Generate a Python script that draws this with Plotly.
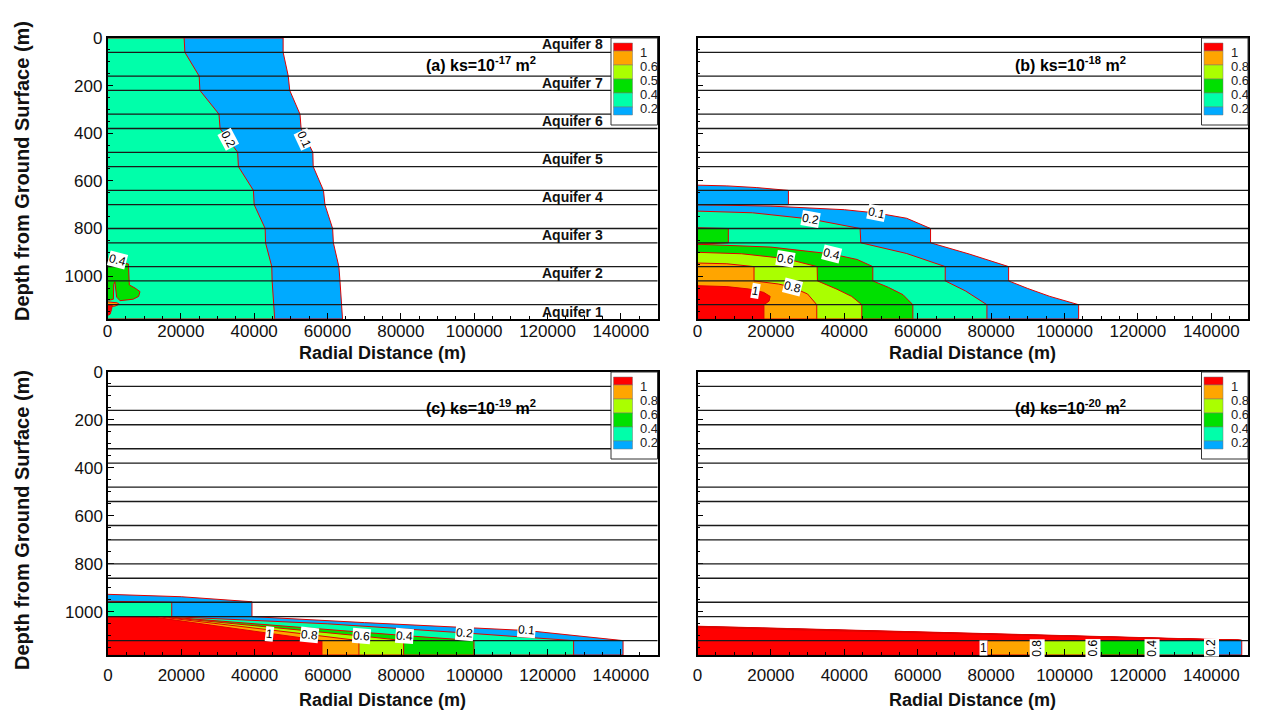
import plotly.graph_objects as go

W, H = 1264, 718

# ---------------- data ----------------
LAYER_BOUNDS = [60, 160, 220, 320, 380, 480, 540, 640, 700, 800, 860, 960, 1020, 1120]
DEPTH_MAX = 1180
X_MAX = 150000
X_TICKS = [0, 20000, 40000, 60000, 80000, 100000, 120000, 140000]
Y_TICKS = [0, 200, 400, 600, 800, 1000]
AQUIFER_NAMES = ["Aquifer 8", "Aquifer 7", "Aquifer 6", "Aquifer 5",
                 "Aquifer 4", "Aquifer 3", "Aquifer 2", "Aquifer 1"]
AQUIFER_DEPTH = [27, 188, 348, 506, 668, 828, 988, 1150]
AQUIFER_LABEL_X = 135600

TITLES = ["(a) ks=10<sup>-17</sup> m<sup>2</sup>", "(b) ks=10<sup>-18</sup> m<sup>2</sup>",
          "(c) ks=10<sup>-19</sup> m<sup>2</sup>", "(d) ks=10<sup>-20</sup> m<sup>2</sup>"]
LEGEND_A = ["1", "0.6", "0.5", "0.4", "0.2"]
LEGEND_BCD = ["1", "0.8", "0.6", "0.4", "0.2"]

# panel (a) contour regions (radial distance m, depth m)
A_X_01 = [0, 47900, 47900, 49300, 49700, 52500, 52800, 56000, 56100, 58900, 59300, 61400, 61600, 63100, 63400, 63900, 64100, 0]
A_D_01 = [0, 0, 60, 160, 220, 320, 380, 480, 540, 640, 700, 800, 860, 960, 1020, 1120, 1180, 1180]
A_X_02 = [0, 20900, 21100, 25000, 25200, 30400, 30700, 35500, 35700, 39800, 40000, 43000, 43100, 44800, 44900, 45400, 45600, 0]
A_D_02 = [0, 0, 60, 160, 220, 320, 380, 480, 540, 640, 700, 800, 860, 960, 1020, 1120, 1180, 1180]
A_X_04 = [0, 5700, 5950, 7500, 8860, 8500, 7000, 3400, 2500, 2200, 2000, 1700, 1600, 700, 0]
A_D_04 = [932, 949, 1037, 1050, 1065, 1085, 1097, 1103, 1088, 1030, 1024, 1035, 1097, 1100, 1100]
A_X_06 = [0, 2600, 3200, 2000, 0]
A_D_06 = [1108, 1112, 1118, 1126, 1128]
A_X_10 = [0, 1300, 1100, 700, 0]
A_D_10 = [1120, 1123, 1140, 1160, 1165]

# panel (b)
B_X_01 = [0, 8000, 16000, 24770, 24770, 0, 20000, 40000, 48870, 57000, 63500, 63500, 74000, 84770, 84770, 90000, 96000, 103850, 103850, 0]
B_D_01 = [618, 621, 628, 640, 700, 700, 706, 721, 735, 757, 800, 860, 907, 960, 1020, 1052, 1085, 1120, 1180, 1180]
B_X_02 = [0, 15000, 30680, 44300, 44500, 57000, 67500, 67500, 73000, 78860, 78860, 0]
B_D_02 = [727, 734, 760, 800, 860, 905, 960, 1020, 1062, 1120, 1180, 1180]
B_X_04 = [0, 8400, 8400, 0, 20000, 36600, 43500, 47770, 47770, 52000, 56000, 58680, 58680, 0]
B_D_04 = [797, 800, 860, 866, 878, 907, 930, 960, 1020, 1047, 1078, 1120, 1180, 1180]
B_X_06 = [0, 12000, 23860, 29000, 32600, 32680, 38000, 42000, 44770, 44770, 0]
B_D_06 = [900, 906, 926, 945, 960, 1020, 1055, 1085, 1120, 1180, 1180]
B_X_08 = [0, 8000, 15400, 15400, 22000, 25700, 30000, 32500, 32500, 0]
B_D_08 = [945, 948, 960, 1020, 1033, 1046, 1075, 1120, 1180, 1180]
B_X_10 = [0, 8000, 14000, 18000, 19800, 19500, 18100, 18100, 0]
B_D_10 = [1040, 1044, 1054, 1068, 1085, 1105, 1120, 1180, 1180]

# panel (c)
C_X_01 = [0, 20000, 39300, 39300, 70000, 114300, 140600, 140600, 0]
C_D_01 = [927, 937, 958, 1020, 1045, 1078, 1120, 1180, 1180]
C_X_02 = [0, 17400, 17400, 60000, 97400, 127100, 127100, 0]
C_D_02 = [956, 960, 1020, 1050, 1088, 1120, 1180, 1180]
C_X_04 = [0, 16000, 81000, 99900, 99900, 0]
C_D_04 = [1020, 1021, 1099, 1120, 1180, 1180]
C_X_06 = [0, 15000, 69300, 80700, 80700, 0]
C_D_06 = [1020, 1021, 1101, 1120, 1180, 1180]
C_X_08 = [0, 14000, 55100, 68500, 68500, 0]
C_D_08 = [1020, 1021, 1095, 1120, 1180, 1180]
C_X_10 = [0, 13000, 44200, 58400, 58400, 0]
C_D_10 = [1021, 1023, 1090, 1120, 1180, 1180]

# panel (d)
D_X_01 = [0, 148300, 148300, 0]
D_D_01 = [1060, 1118, 1180, 1180]
D_X_02 = [0, 148100, 140000, 140000, 0]
D_D_02 = [1061, 1119, 1120, 1180, 1180]
D_X_04 = [0, 147900, 123800, 123800, 0]
D_D_04 = [1062, 1119, 1120, 1180, 1180]
D_X_06 = [0, 147700, 107700, 107700, 0]
D_D_06 = [1063, 1119, 1120, 1180, 1180]
D_X_08 = [0, 147500, 92500, 92500, 0]
D_D_08 = [1064, 1119, 1120, 1180, 1180]
D_X_10 = [0, 147300, 79000, 79000, 0]
D_D_10 = [1065, 1119, 1120, 1180, 1180]

# contour labels: text, x, depth, angle
A_LABELS = [("0.2", 32900, 424, 62), ("0.1", 53600, 424, 65), ("0.4", 2700, 932, 15)]
B_LABELS = [("0.1", 48900, 736, 12), ("0.2", 30700, 762, 10), ("0.4", 36600, 909, 14),
            ("0.6", 24100, 926, 10), ("0.8", 25900, 1046, 14), ("1", 15900, 1062, 10)]
C_LABELS = [("1", 44200, 1091, 6), ("0.8", 55100, 1095, 6), ("0.6", 69300, 1100, 5),
            ("0.4", 81000, 1099, 4), ("0.2", 97400, 1088, 5), ("0.1", 114300, 1077, 5)]
D_LABELS = [("1", 77800, 1152, 0), ("0.8", 92500, 1150, -90), ("0.6", 107700, 1150, -90),
            ("0.4", 123800, 1150, -90), ("0.2", 140000, 1150, -90)]

# ---------------- styling ----------------
RED, ORANGE, YG, GREEN, AQUA, BLUE = "#FF0000", "#FFA500", "#AAFF00", "#00E000", "#00FFAA", "#00AAFF"
LEGEND_COLORS = [RED, ORANGE, YG, GREEN, AQUA, BLUE]
CLINE = "#E00000"
FONT = "Liberation Sans, Arial, sans-serif"

# panel boxes in pixels: left, right, top, bottom
BOXES = [(107.5, 657.5, 38, 319), (697.5, 1248, 38, 319),
         (108, 657.5, 372, 655), (697.5, 1248, 372, 655)]
TITLE_OFFSET = [26, 26, 35, 35]
XTITLE_OFFSET = [34, 34, 45, 45]
TICK_STANDOFF = [-4, -4, 4, 4]

def px(x):
    return x / W

def py(y):
    return 1 - y / H

panels = [
    dict(regions=[(A_X_01, A_D_01, BLUE), (A_X_02, A_D_02, AQUA), (A_X_04, A_D_04, GREEN),
                  (A_X_06, A_D_06, ORANGE), (A_X_10, A_D_10, RED)], labels=A_LABELS, legend=LEGEND_A),
    dict(regions=[(B_X_01, B_D_01, BLUE), (B_X_02, B_D_02, AQUA), (B_X_04, B_D_04, GREEN),
                  (B_X_06, B_D_06, YG), (B_X_08, B_D_08, ORANGE), (B_X_10, B_D_10, RED)],
         labels=B_LABELS, legend=LEGEND_BCD),
    dict(regions=[(C_X_01, C_D_01, BLUE), (C_X_02, C_D_02, AQUA), (C_X_04, C_D_04, GREEN),
                  (C_X_06, C_D_06, YG), (C_X_08, C_D_08, ORANGE), (C_X_10, C_D_10, RED)],
         labels=C_LABELS, legend=LEGEND_BCD),
    dict(regions=[(D_X_01, D_D_01, BLUE), (D_X_02, D_D_02, AQUA), (D_X_04, D_D_04, GREEN),
                  (D_X_06, D_D_06, YG), (D_X_08, D_D_08, ORANGE), (D_X_10, D_D_10, RED)],
         labels=D_LABELS, legend=LEGEND_BCD),
]

fig = go.Figure()
shapes = []
annotations = []
layout_axes = {}


def paper_text(x, y, text, size, angle=0, xanchor="center", color="#111"):
    annotations.append(dict(x=px(x), y=py(y), xref="paper", yref="paper", text=text,
                            showarrow=False, textangle=angle, xanchor=xanchor, yanchor="middle",
                            font=dict(family=FONT, size=size, color=color)))


for i, p in enumerate(panels):
    n = "" if i == 0 else str(i + 1)
    xa, ya = "x" + n, "y" + n
    L, R, T, B = BOXES[i]
    for xs, ds, col in p["regions"]:
        fig.add_trace(go.Scatter(x=xs, y=ds, xaxis=xa, yaxis=ya, mode="lines", fill="toself",
                                 fillcolor=col, line=dict(color=CLINE, width=1),
                                 hoverinfo="skip", showlegend=False))
    common_x = dict(domain=[px(L), px(R)], range=[0, X_MAX], anchor=ya, automargin=False,
                    tickvals=X_TICKS, ticktext=[str(v) for v in X_TICKS],
                    ticks="inside", ticklen=6, tickwidth=1, tickcolor="black",
                    ticklabelstandoff=TICK_STANDOFF[i],
                    minor=dict(dtick=5000, ticks="inside", ticklen=3, tickcolor="black"),
                    showline=True, mirror=True, linecolor="black", linewidth=1.5,
                    showgrid=False, zeroline=False,
                    tickfont=dict(family=FONT, size=17, color="#111"))
    common_y = dict(domain=[py(B), py(T)], range=[DEPTH_MAX, 0], anchor=xa, automargin=False,
                    tickvals=Y_TICKS, ticktext=[str(v) for v in Y_TICKS],
                    ticks="inside", ticklen=6, tickwidth=1, tickcolor="black",
                    minor=dict(dtick=50, ticks="inside", ticklen=3, tickcolor="black"),
                    showline=True, mirror=True, linecolor="black", linewidth=1.5,
                    showgrid=False, zeroline=False, showticklabels=(i % 2 == 0),
                    tickfont=dict(family=FONT, size=17, color="#111"))
    layout_axes["xaxis" + n] = common_x
    layout_axes["yaxis" + n] = common_y

    # layer boundary lines
    for b in LAYER_BOUNDS:
        shapes.append(dict(type="line", xref=xa + " domain", x0=0, x1=1, yref=ya, y0=b, y1=b,
                           line=dict(color="#1a1a1a", width=1.3), layer="above"))

    # contour labels
    for txt, lx, ld, ang in p["labels"]:
        annotations.append(dict(x=lx, y=ld, xref=xa, yref=ya, text=txt, showarrow=False,
                                textangle=ang, bgcolor="white", borderpad=0,
                                xanchor="center", yanchor="middle",
                                font=dict(family=FONT, size=12, color="black")))

    # panel title
    paper_text((L + R) / 2 + 98, T + TITLE_OFFSET[i], "<b>" + TITLES[i] + "</b>", 16, color="black")

    # axis title
    paper_text((L + R) / 2, B + XTITLE_OFFSET[i], "<b>Radial Distance (m)</b>", 18)

    # legend box
    lx0 = R - 46.5
    shapes.append(dict(type="rect", xref="paper", yref="paper", x0=px(lx0), x1=px(R),
                       y0=py(T + 87), y1=py(T), fillcolor="white",
                       line=dict(color="#333", width=1), layer="above"))
    edges = [5, 13, 27, 41, 55, 69, 77]
    for k, col in enumerate(LEGEND_COLORS):
        shapes.append(dict(type="rect", xref="paper", yref="paper", x0=px(lx0 + 2.5), x1=px(lx0 + 21.5),
                           y0=py(T + edges[k + 1]), y1=py(T + edges[k]), fillcolor=col,
                           line=dict(color="#777", width=0.5), layer="above"))
    for k, txt in enumerate(p["legend"]):
        paper_text(lx0 + 27, T + edges[k + 1] + 1.5, txt, 13, xanchor="left", color="#222")

# aquifer names in panel (a)
for name, d in zip(AQUIFER_NAMES, AQUIFER_DEPTH):
    annotations.append(dict(x=AQUIFER_LABEL_X, y=d, xref="x", yref="y", text="<b>" + name + "</b>",
                            showarrow=False, xanchor="right", yanchor="middle",
                            font=dict(family=FONT, size=14, color="#111")))

# y axis titles
for yc in (171, 520):
    paper_text(22, yc, "<b>Depth from Ground Surface (m)</b>", 20, angle=-90)

fig.update_layout(width=W, height=H, margin=dict(l=0, r=0, t=0, b=0),
                  paper_bgcolor="white", plot_bgcolor="white",
                  shapes=shapes, annotations=annotations, showlegend=False, **layout_axes)

fig.write_html("out.html")
